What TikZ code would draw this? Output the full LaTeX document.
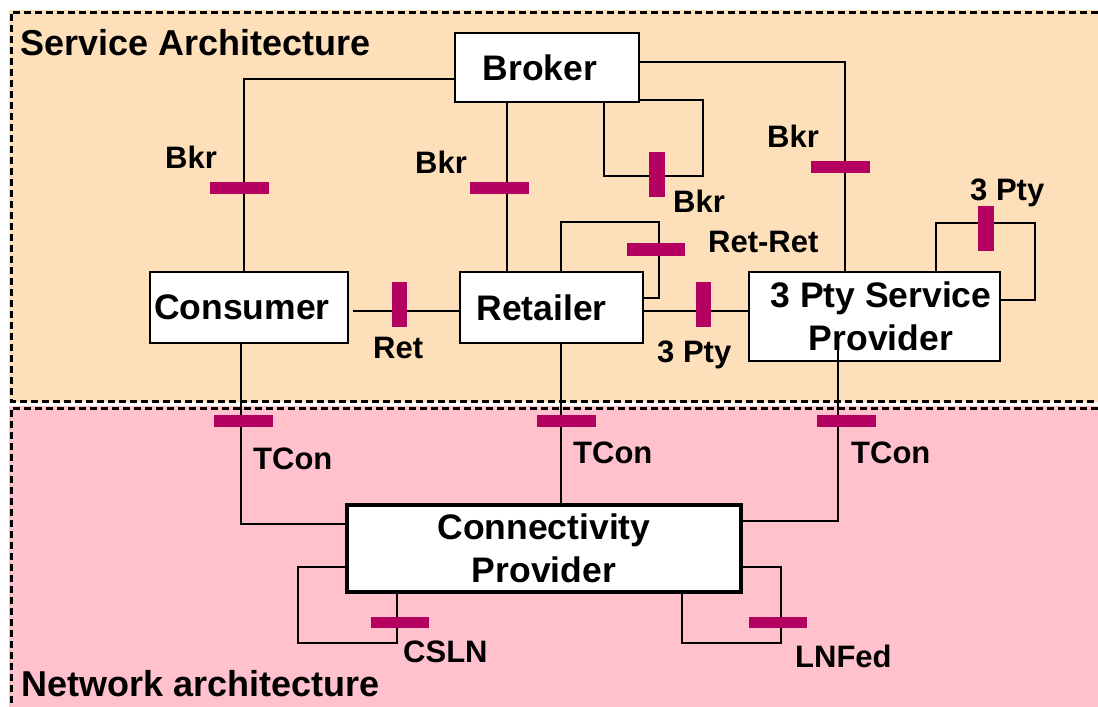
\documentclass[tikz,border=0pt]{standalone}
\usepackage{fontspec}
\setmainfont{Liberation Sans}
\usetikzlibrary{calc}
\definecolor{peachbg}{RGB}{253,224,185}
\definecolor{pinkbg}{RGB}{255,193,204}
\definecolor{barcol}{RGB}{180,0,96}
\tikzset{
  box/.style={draw=black, line width=2.5pt, fill=white, anchor=north west, inner sep=0pt, outer sep=0pt,
    font=\fontsize{35.5}{42.5}\selectfont\bfseries, align=center},
  conn/.style={line width=2pt, line join=miter},
  border/.style={line width=3pt, dash pattern=on 7pt off 4pt},
  hbar/.style={fill=barcol, draw=none, minimum width=59pt, minimum height=12pt, inner sep=0pt},
  vbar/.style={fill=barcol, draw=none, minimum width=16pt, minimum height=45pt, inner sep=0pt},
  lbl/.style={font=\fontsize{31}{36}\selectfont\bfseries, inner sep=0pt, anchor=base west},
  ttl/.style={font=\fontsize{36}{42}\selectfont\bfseries, inner sep=0pt, anchor=base west},
}
\begin{document}
\begin{tikzpicture}[x=1pt,y=-1pt]
\useasboundingbox (0,0) rectangle (1098,707);
% backgrounds
\fill[peachbg] (9,10) rectangle (1098,402);
\fill[pinkbg] (9,406) rectangle (1098,707);
\draw[border] (1098,12) -- (11,12) -- (11,401) -- (1098,401);
\draw[border] (1098,408) -- (11,408) -- (11,707);
\node[ttl] (sa) at (20,55) {Service Architecture};
\node[ttl] (na) at (21,696) {Network architecture};
% boxes
\node[box, minimum width=184pt, minimum height=69pt] (broker) at (455,33) {\hspace*{-14pt}Broker};
\node[box, minimum width=198pt, minimum height=71pt] (consumer) at (150,272) {\hspace*{-14pt}Consumer};
\node[box, minimum width=183pt, minimum height=71pt] (retailer) at (460,272) {\hspace*{-20pt}Retailer};
\node[box, minimum width=251pt, minimum height=89pt] (psp) at (749,272) {\hspace*{13pt}3 Pty Service\\\hspace*{13pt}Provider};
\node[box, line width=4.5pt, minimum width=394pt, minimum height=87pt] (cp) at (347,505) {Connectivity\\Provider};
\coordinate (pspin) at ($(psp.south -| 838,0)+(0,-14)$);
% connectors
\draw[conn] (broker.west |- 0,79) -| (consumer.north -| 244,0);
\draw[conn] (broker.south -| 507,0) -- (retailer.north -| 507,0);
\draw[conn] (broker.east |- 0,100) -- (703,100) -- (703,176) -- (604,176) -- (broker.south -| 604,0);
\draw[conn] (broker.east |- 0,62) -| (psp.north -| 845,0);
\draw[conn] (retailer.north -| 561,0) -- (561,222) -- (659,222) -- (659,298) -- (retailer.east |- 0,298);
\draw[conn, shorten <=5pt] (consumer.east |- 0,311) -- (retailer.west |- 0,311);
\draw[conn] (retailer.east |- 0,311) -- (psp.west |- 0,311);
\draw[conn] (psp.north -| 936,0) -- (936,223) -- (1035,223) -- (1035,300) -- (psp.east |- 0,300);
\draw[conn] (consumer.south -| 241,0) |- (cp.west |- 0,524);
\draw[conn] (retailer.south -| 561,0) -- (cp.north -| 561,0);
\draw[conn] (pspin) |- (cp.east |- 0,521);
\draw[conn] (cp.west |- 0,567) -- (298,567) -- (298,643) -- (397,643) -- (cp.south -| 397,0);
\draw[conn] (cp.south -| 682,0) -- (682,643) -- (781,643) -- (781,567) -- (cp.east |- 0,567);
% interface bars
\node[hbar] (b1) at (239.5,188) {};
\node[hbar] (b2) at (499.5,188) {};
\node[vbar] (b3) at (657,174.5) {};
\node[hbar] (b4) at (840.5,167) {};
\node[hbar, minimum width=58pt, minimum height=13pt] (b5) at (656,249.5) {};
\node[vbar, minimum width=15pt] (b6) at (399.5,304.5) {};
\node[vbar, minimum width=15pt] (b7) at (703.5,304.5) {};
\node[vbar] (b8) at (986,228.5) {};
\node[hbar] (b9) at (243,421) {};
\node[hbar] (b10) at (566.5,421) {};
\node[hbar] (b11) at (846.5,421) {};
\node[hbar, minimum width=58pt, minimum height=11pt] (b12) at (400,622.5) {};
\node[hbar, minimum width=58pt, minimum height=11pt] (b13) at (777.5,622.5) {};
% labels
\node[lbl] (l1) at (165,168) {Bkr};
\node[lbl] (l2) at (415,173) {Bkr};
\node[lbl] (l3) at (673,212) {Bkr};
\node[lbl] (l4) at (767,147) {Bkr};
\node[lbl] (l5) at (708,252) {Ret-Ret};
\node[lbl] (l6) at (373,358) {Ret};
\node[lbl] (l7) at (657,362) {3 Pty};
\node[lbl] (l8) at (970,200) {3 Pty};
\node[lbl] (l9) at (253,469) {TCon};
\node[lbl] (l10) at (573,463) {TCon};
\node[lbl] (l11) at (851,463) {TCon};
\node[lbl] (l12) at (403,662) {CSLN};
\node[lbl] (l13) at (795,667) {LNFed};
\end{tikzpicture}
\end{document}
